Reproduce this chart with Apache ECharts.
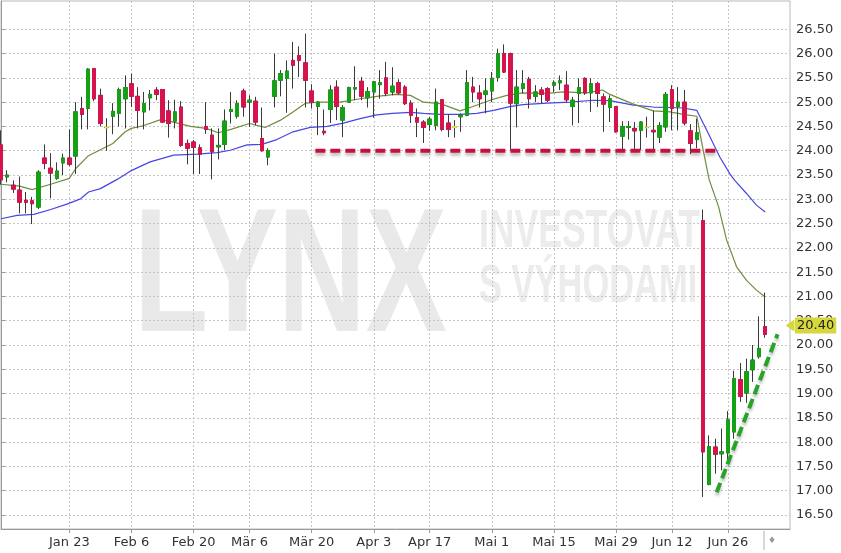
<!DOCTYPE html>
<html><head><meta charset="utf-8">
<script src="https://cdn.jsdelivr.net/npm/echarts@6/dist/echarts.min.js"></script>
<style>html,body{margin:0;padding:0;background:#fff}#c{width:841px;height:553px}</style>
</head><body><div id="c"></div><script>
// trading days (2023-01-05 .. 2023-07-05)
const dates = [
 '01-05','01-06','01-09','01-10','01-11','01-12','01-13','01-17','01-18','01-19','01-20','01-23','01-24','01-25','01-26','01-27','01-30','01-31',
 '02-01','02-02','02-03','02-06','02-07','02-08','02-09','02-10','02-13','02-14','02-15','02-16','02-17','02-21','02-22','02-23','02-24','02-27','02-28',
 '03-01','03-02','03-03','03-06','03-07','03-08','03-09','03-10','03-13','03-14','03-15','03-16','03-17','03-20','03-21','03-22','03-23','03-24','03-27','03-28','03-29','03-30','03-31',
 '04-03','04-04','04-05','04-06','04-10','04-11','04-12','04-13','04-14','04-17','04-18','04-19','04-20','04-21','04-24','04-25','04-26','04-27','04-28',
 '05-01','05-02','05-03','05-04','05-05','05-08','05-09','05-10','05-11','05-12','05-15','05-16','05-17','05-18','05-19','05-22','05-23','05-24','05-25','05-26','05-30','05-31',
 '06-01','06-02','06-05','06-06','06-07','06-08','06-09','06-12','06-13','06-14','06-15','06-16','06-20','06-21','06-22','06-23','06-26','06-27','06-28','06-29','06-30',
 '07-03','07-05'
];
// [open, close, low, high]
const ohlc = [
 [24.12,23.40,23.30,24.42],[23.46,23.50,23.35,23.60],[23.29,23.21,23.13,23.39],[23.19,22.94,22.71,23.47],[22.98,22.94,22.71,23.15],
 [22.97,22.91,22.49,23.05],[22.84,23.56,22.80,23.60],[23.85,23.74,23.62,24.13],[23.64,23.54,23.02,23.95],[23.43,23.58,23.40,23.76],
 [23.75,23.85,23.50,23.94],[23.85,23.72,23.68,24.44],[23.89,24.80,23.52,25.00],[24.87,24.75,24.44,25.11],[24.87,25.68,24.44,25.70],
 [25.69,25.07,25.02,25.70],[25.14,24.56,24.50,25.28],[24.48,24.48,24.00,24.67],[24.71,24.81,24.34,24.98],[24.77,25.26,24.50,25.30],
 [25.07,25.30,24.46,25.55],[25.38,25.12,24.90,25.59],[25.12,24.83,24.46,25.31],[24.80,24.97,24.44,25.21],[25.09,25.16,24.83,25.25],
 [25.25,25.16,25.04,25.31],[25.26,24.59,24.57,25.27],[24.82,24.56,24.27,25.04],[24.61,24.80,24.46,25.05],[24.90,24.11,24.08,25.02],
 [24.15,24.05,23.72,24.23],[24.18,24.07,23.52,24.22],[24.06,23.93,23.52,24.13],[24.50,24.44,24.35,25.00],[24.32,23.98,23.41,24.46],
 [24.08,24.11,23.82,24.46],[24.13,24.61,24.01,24.85],[24.81,24.85,24.56,25.21],[24.71,24.97,24.66,25.04],[25.23,24.90,24.70,25.28],
 [25.00,25.04,24.49,25.14],[25.02,24.59,24.52,25.11],[24.25,24.00,23.98,24.89],[23.87,24.00,23.70,24.05],[25.12,25.44,24.89,26.00],
 [25.45,25.59,25.12,25.66],[25.49,25.64,24.78,25.86],[25.86,25.76,25.28,26.24],[25.96,25.86,25.52,26.15],[25.81,25.45,24.89,26.41],
 [25.23,25.00,24.87,25.37],[24.91,25.00,24.32,25.02],[24.40,24.37,24.32,24.85],[24.85,25.25,24.57,25.35],[25.31,24.91,24.63,25.45],
 [24.63,24.89,24.28,24.94],[25.00,25.30,24.99,25.32],[25.27,25.30,25.04,25.74],[25.43,25.12,25.04,25.52],[25.09,25.22,24.89,25.31],
 [25.21,25.42,24.68,25.44],[25.36,25.40,25.07,25.66],[25.50,25.18,25.12,25.83],[25.21,25.33,25.14,25.72],[25.40,25.19,25.16,25.47],
 [25.31,24.97,24.94,25.35],[24.98,24.73,24.57,25.04],[24.68,24.59,24.28,24.87],[24.59,24.48,24.16,24.63],[24.54,24.65,24.41,24.70],
 [24.52,25.00,24.42,25.28],[25.05,24.44,24.40,25.06],[24.57,24.44,24.28,24.75],[24.49,24.49,24.27,24.63],[24.70,24.73,24.39,24.77],
 [24.73,25.40,24.71,25.66],[25.31,25.21,25.00,25.52],[25.19,25.07,24.89,25.35],[25.16,25.23,24.77,25.49],[25.23,25.49,25.00,25.62],
 [25.51,26.00,25.42,26.10],[26.00,25.62,25.60,26.19],[26.00,24.98,24.02,26.02],[24.97,25.31,24.48,25.66],[25.28,25.38,25.18,25.66],
 [25.47,25.07,24.87,25.52],[25.12,25.21,25.00,25.35],[25.25,25.16,24.98,25.31],[25.28,25.04,25.00,25.31],[25.35,25.40,25.21,25.45],
 [25.40,25.44,25.25,25.55],[25.35,25.05,25.00,25.64],[24.91,25.04,24.52,25.11],[25.18,25.30,24.57,25.49],[25.49,25.19,25.15,25.51],
 [25.19,25.38,24.80,25.49],[25.38,25.18,24.90,25.42],[25.11,24.96,24.39,25.18],[24.89,25.07,24.59,25.14],[24.91,24.39,24.37,24.92],
 [24.30,24.50,24.02,24.61],[24.48,24.50,24.23,24.61],[24.46,24.41,24.02,24.59],[24.42,24.59,24.01,24.61],[24.48,24.48,24.27,24.70],
 [24.42,24.39,24.01,24.83],[24.28,24.52,24.16,24.59],[24.49,25.16,24.39,25.21],[25.26,24.87,24.42,25.35],[24.91,25.00,24.42,25.31],
 [25.00,24.57,24.52,25.25],[24.41,24.15,23.93,24.55],[24.23,24.37,24.05,24.66],[22.56,17.80,16.87,22.79],[17.13,17.91,17.11,18.14],
 [17.90,17.75,17.35,18.07],[17.76,17.80,17.42,18.28],[17.78,18.46,17.63,18.64],[18.21,19.31,18.07,19.47],[19.29,18.94,18.83,19.63],
 [19.01,19.45,18.81,19.72],[19.49,19.69,19.24,20.00],[19.76,19.93,19.72,20.59],[20.38,20.22,20.15,21.08]
];
// moving averages: [day index, value]
const maShort = [[0,23.31],[3,23.27],[5,23.20],[8,23.31],[11,23.43],[12,23.63],[14,23.89],[16,24.02],[18,24.15],[20,24.39],[21,24.46],[23,24.52],[25.7,24.64],[27.8,24.59],[30.5,24.50],[33,24.46],[35,24.37],[37,24.44],[40,24.56],[42.5,24.48],[45,24.63],[47,24.80],[49,24.98],[51.4,25.00],[54.6,25.00],[57.8,25.07],[60.5,25.12],[63.4,25.16],[65.9,25.14],[68,25.00],[70.7,24.97],[73.9,24.82],[76,24.91],[78.7,25.04],[81.4,25.14],[84,25.19],[87.9,25.18],[90.5,25.21],[94.3,25.19],[96.8,25.25],[98,25.16],[101.8,24.96],[105,24.82],[107.7,24.80],[109.8,24.75],[112,24.71],[113,24.03],[114,23.40],[115.5,22.85],[116.8,22.16],[118.4,21.61],[120,21.33],[121.6,21.13],[123,20.99]];
const maLong = [[0,22.60],[2.6,22.67],[5.3,22.69],[8,22.79],[10.6,22.90],[12.8,23.01],[14.1,23.15],[16,23.22],[18.7,23.41],[20.8,23.58],[24,23.77],[27.8,23.91],[31.6,23.93],[34.8,23.96],[36.9,24.01],[39.6,24.12],[42,24.13],[44.4,24.23],[47,24.39],[49.8,24.48],[52.5,24.50],[55.1,24.57],[57.8,24.66],[60.5,24.74],[63,24.77],[65.9,24.79],[68,24.77],[70.7,24.75],[73.9,24.75],[76.6,24.77],[79.3,24.83],[81.9,24.91],[84,24.95],[87.9,24.98],[91.6,25.00],[95.4,25.04],[98,25.03],[101.8,24.94],[105,24.90],[107.7,24.89],[109.8,24.88],[112,24.83],[113.6,24.42],[115.7,23.87],[117.3,23.53],[118.1,23.39],[120,23.12],[121.6,22.88],[123,22.74]];
// drawn annotation lines: [day index, price]
const supportLine = [[50.6,24.0],[115.2,24.0]];
const trendLine = [[115.2,16.97],[125.0,20.22]];
const lastPrice = 20.40;
const tickDates = ['01-23','02-06','02-21','03-06','03-20','04-03','04-17','05-01','05-15','05-30','06-12','06-26'];
const tickTexts = ['Jan 23','Feb 6','Feb 20','Mär 6','Mär 20','Apr 3','Apr 17','Mai 1','Mai 15','Mai 29','Jun 12','Jun 26'];
const yTicks = [16.5,17,17.5,18,18.5,19,19.5,20,20.5,21,21.5,22,22.5,23,23.5,24,24.5,25,25.5,26,26.5];

const UP = '#16a016', DOWN = '#d6134d', DOJI = '#e6e22a', WICK = '#3a3a3a';
const isTick = (i, v) => tickDates.indexOf(v) >= 0;
const bodies = ohlc.map(d => {
  const item = {value: [d[0], d[1], Math.min(d[0], d[1]), Math.max(d[0], d[1])]};
  if (d[0] === d[1]) item.itemStyle = {color: DOJI, borderColor: DOJI, color0: DOJI, borderColor0: DOJI, borderWidth: 2};
  return item;
});
const FONT = 'DejaVu Sans';
const WM = '"Liberation Sans", Arial, sans-serif';
const chart = echarts.init(document.getElementById('c'), null, {renderer: 'canvas'});
chart.setOption({
  animation: false,
  backgroundColor: '#fff',
  grid: {left: 1, right: 51, top: 1, bottom: 24, show: true, borderColor: '#b9b9b9', borderWidth: 1, containLabel: false},
  graphic: [
    {type: 'text', x: 134, y: 282, z: -5, scaleX: 0.69, style: {text: 'LYNX', font: 'bold 176px ' + WM, fill: '#e9e9e9', verticalAlign: 'middle'}},
    {type: 'text', x: 479, y: 232, z: -5, scaleX: 0.67, style: {text: 'INVESTOVAT', font: 'bold 53px ' + WM, fill: '#ececec', verticalAlign: 'middle'}},
    {type: 'text', x: 479, y: 287, z: -5, scaleX: 0.65, style: {text: 'S VÝHODAMI', font: 'bold 53px ' + WM, fill: '#ececec', verticalAlign: 'middle'}},
    {type: 'text', x: 768, y: 541, style: {text: '♦', font: '9px ' + FONT, fill: '#999', verticalAlign: 'middle'}},
    {type: 'line', shape: {x1: 764, y1: 531, x2: 764, y2: 550}, style: {stroke: '#b0b0b0', lineWidth: 1}}
  ],
  xAxis: [{
    type: 'category', data: dates, boundaryGap: false, max: 127,
    axisLine: {show: true, lineStyle: {color: '#9a9a9a'}},
    axisTick: {show: true, length: 4, interval: isTick, lineStyle: {color: '#9a9a9a'}},
    axisLabel: {interval: isTick, formatter: v => tickTexts[tickDates.indexOf(v)] || '', color: '#333', fontSize: 13, fontFamily: FONT, margin: 7},
    splitLine: {show: true, interval: isTick, lineStyle: {color: '#c6c6c6', type: [2, 2]}}
  }, {
    type: 'value', min: 0, max: 127, show: false
  }],
  yAxis: {
    type: 'value', position: 'right', min: 16.212, max: 27.083,
    axisLine: {show: true, lineStyle: {color: '#9a9a9a'}},
    axisTick: {show: true, length: 4, customValues: yTicks, lineStyle: {color: '#9a9a9a'}},
    axisLabel: {customValues: yTicks, formatter: v => v.toFixed(2), color: '#333', fontSize: 13, fontFamily: FONT, margin: 6},
    splitLine: {show: true, lineStyle: {color: '#c6c6c6', type: [2, 2]}}
  },
  series: [
    {type: 'line', xAxisIndex: 1, data: maLong, showSymbol: false, smooth: false, z: 3, lineStyle: {color: '#4646e6', width: 1.2}},
    {type: 'line', xAxisIndex: 1, data: maShort, showSymbol: false, smooth: false, z: 3, lineStyle: {color: '#6f8c3f', width: 1.2}},
    {type: 'candlestick', name: 'wick', data: ohlc, barWidth: 4, z: 4,
      itemStyle: {color: 'transparent', color0: 'transparent', borderColor: WICK, borderColor0: WICK, borderWidth: 1}},
    {type: 'candlestick', name: 'body', data: bodies, barWidth: 4, z: 5,
      itemStyle: {color: UP, color0: DOWN, borderColor: UP, borderColor0: DOWN, borderWidth: 1},
      markLine: {silent: true, symbol: ['none', 'path://M0,0L10,0L5,10Z'], symbolSize: [12, 9],
        data: [{yAxis: lastPrice}], lineStyle: {width: 0, color: '#d5d73c'},
        label: {show: true, position: 'end', formatter: lastPrice.toFixed(2), backgroundColor: '#d5d73c', color: '#222',
          fontSize: 13, fontFamily: FONT, padding: [2, 2, 1, 2], distance: 5}}},
    {type: 'line', xAxisIndex: 1, data: supportLine, showSymbol: false, z: 6,
      lineStyle: {color: '#c8103c', width: 4, type: [10, 5], shadowColor: 'rgba(0,0,0,0.25)', shadowBlur: 3, shadowOffsetY: 3}},
    {type: 'line', xAxisIndex: 1, data: trendLine, showSymbol: false, z: 6,
      lineStyle: {color: '#27a327', width: 4, type: [10, 5], shadowColor: 'rgba(0,0,0,0.25)', shadowBlur: 3, shadowOffsetY: 3}}
  ]
});
</script></body></html>
